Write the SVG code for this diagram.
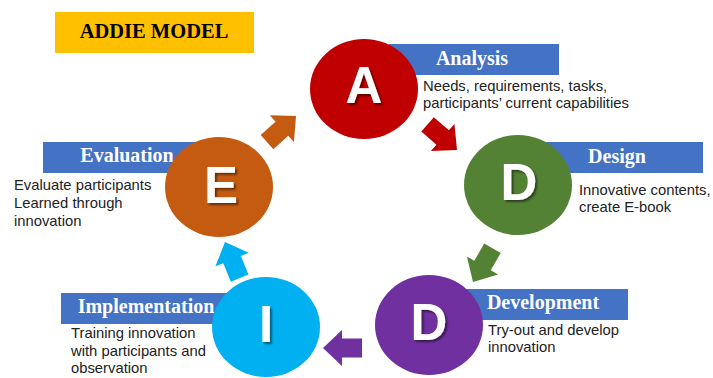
<svg xmlns="http://www.w3.org/2000/svg" width="713" height="378" viewBox="0 0 713 378">
<defs>
<style>
.title{font-family:"Liberation Serif","DejaVu Serif",serif;font-weight:bold;font-size:20.5px;fill:#000;text-anchor:middle}
.lbl{font-family:"Liberation Serif","DejaVu Serif",serif;font-weight:bold;font-size:20px;fill:#fff;text-anchor:middle}
.body{font-family:"Liberation Sans","Open Sans",sans-serif;font-size:14.8px;fill:#222}
.let{font-family:"Liberation Sans","Open Sans",sans-serif;font-weight:bold;font-size:51px;fill:#fff;text-anchor:middle}
.box{fill:#4472C4}
</style>
<filter id="sh" x="-30%" y="-30%" width="160%" height="160%">
<feDropShadow dx="2" dy="2" stdDeviation="1.2" flood-color="#000" flood-opacity="0.5"/>
</filter>
<polygon id="arw" points="0,0 -19,-18 -19,-9.5 -39,-9.5 -39,9.5 -19,9.5 -19,18"/>
</defs>
<rect width="713" height="378" fill="#fff"/>
<g id="title">
<rect x="55" y="12" width="199" height="41" fill="#FFC000"/>
<text class="title" x="154" y="38">ADDIE MODEL</text>
</g>
<g id="connectors">
<use href="#arw" fill="#C00000" transform="translate(457,150) rotate(41)"/>
<use href="#arw" fill="#548235" transform="translate(473,282) rotate(120)"/>
<use href="#arw" fill="#7030A0" transform="translate(323,348) rotate(180)"/>
<use href="#arw" fill="#00B0F0" transform="translate(225,242) rotate(-112)"/>
<use href="#arw" fill="#C55A11" transform="translate(296,116) rotate(-42)"/>
</g>
<g id="analysis">
<rect class="box" x="389" y="44" width="170" height="31"/>
<text class="lbl" x="472" y="65">Analysis</text>
<ellipse cx="364" cy="89" rx="54" ry="50" fill="#C00000"/>
<text class="let" x="364" y="103" filter="url(#sh)">A</text>
<text class="body" x="423" y="91">Needs, requirements, tasks,</text>
<text class="body" x="423" y="108">participants’ current capabilities</text>
</g>
<g id="design">
<rect class="box" x="543" y="142" width="160" height="31"/>
<text class="lbl" x="617" y="163">Design</text>
<ellipse cx="518" cy="185" rx="54" ry="50" fill="#548235"/>
<text class="let" x="519" y="200" filter="url(#sh)">D</text>
<text class="body" x="579" y="195">Innovative contents,</text>
<text class="body" x="579" y="212">create E-book</text>
</g>
<g id="development">
<rect class="box" x="466" y="289" width="162" height="31"/>
<text class="lbl" x="543" y="309">Development</text>
<ellipse cx="429" cy="325" rx="54" ry="50" fill="#7030A0"/>
<text class="let" x="429" y="340" filter="url(#sh)">D</text>
<text class="body" x="488" y="335">Try-out and develop</text>
<text class="body" x="488" y="352">innovation</text>
</g>
<g id="implementation">
<rect class="box" x="61" y="293" width="180" height="31"/>
<text class="lbl" x="146" y="313">Implementation</text>
<ellipse cx="266" cy="327" rx="54" ry="50" fill="#00B0F0"/>
<text class="let" x="266" y="342" filter="url(#sh)">I</text>
<text class="body" x="71" y="338">Training innovation</text>
<text class="body" x="71" y="356">with participants and</text>
<text class="body" x="71" y="373">observation</text>
</g>
<g id="evaluation">
<rect class="box" x="43" y="142" width="160" height="31"/>
<text class="lbl" x="127" y="162">Evaluation</text>
<ellipse cx="219" cy="187" rx="54" ry="50" fill="#C55A11"/>
<text class="let" x="221" y="203" filter="url(#sh)">E</text>
<text class="body" x="14" y="190">Evaluate participants</text>
<text class="body" x="14" y="208">Learned through</text>
<text class="body" x="14" y="226">innovation</text>
</g>
</svg>
